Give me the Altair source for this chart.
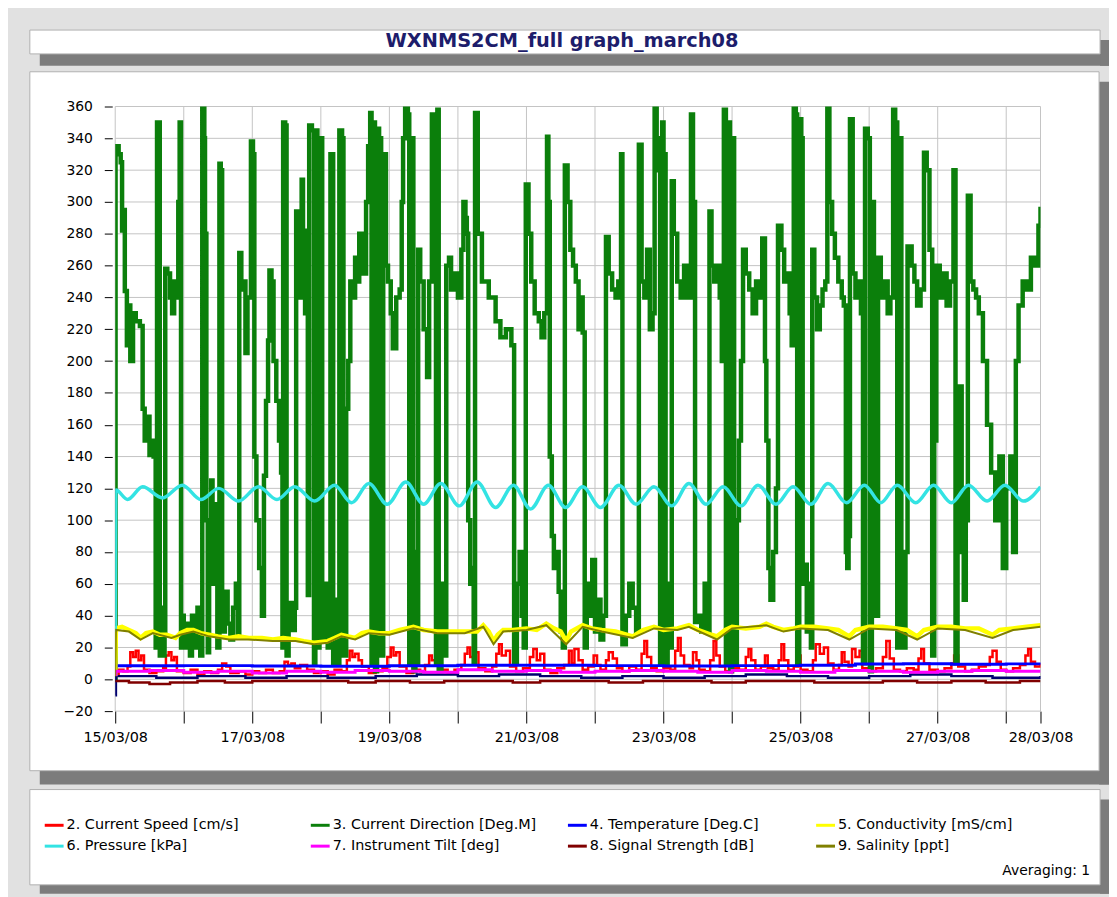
import altair as alt
import pandas as pd

TITLE = "WXNMS2CM_full graph_march08"
Y_TICKS = list(range(-20, 361, 20))
X_TICK_DAYS = [0, 1, 2, 3, 4, 5, 6, 7, 8, 9, 10, 11, 12, 13, 13.5]
X_TICK_LABELS = ["15/03/08", "", "17/03/08", "", "19/03/08", "", "21/03/08", "",
                 "23/03/08", "", "25/03/08", "", "27/03/08", "", "28/03/08"]

# (day since 15/03/08 00:00, value)
CURRENT_SPEED = [(0,3),(0.05,6),(0.12,5),(0.18,8),(0.22,17),(0.26,14),(0.30,18),(0.34,12),(0.38,15),(0.42,6),(0.5,4),(0.6,5),(0.7,7),(0.74,15),(0.78,17),(0.82,12),(0.86,14),(0.9,5),(1.0,4),(1.1,6),(1.2,3),(1.3,5),(1.4,4),(1.5,6),(1.56,10),(1.62,8),(1.68,4),(1.8,5),(1.9,3),(2.0,5),(2.1,4),(2.2,6),(2.3,4),(2.4,5),(2.47,11),(2.52,9),(2.57,10),(2.62,7),(2.7,9),(2.8,6),(2.9,4),(3.0,5),(3.1,3),(3.2,6),(3.3,5),(3.38,12),(3.42,18),(3.46,14),(3.50,16),(3.55,12),(3.6,8),(3.7,4),(3.8,5),(3.9,7),(3.97,14),(4.02,20),(4.06,15),(4.1,17),(4.15,8),(4.25,4),(4.35,6),(4.45,5),(4.52,9),(4.58,15),(4.62,12),(4.68,14),(4.74,6),(4.85,4),(4.95,6),(5.05,9),(5.1,16),(5.14,20),(5.18,14),(5.24,17),(5.3,7),(5.4,5),(5.5,8),(5.56,16),(5.6,22),(5.64,15),(5.7,18),(5.76,8),(5.85,5),(5.95,7),(6.05,14),(6.1,19),(6.15,12),(6.2,16),(6.26,6),(6.35,4),(6.45,7),(6.55,9),(6.62,18),(6.66,10),(6.7,19),(6.76,12),(6.82,6),(6.9,8),(6.98,15),(7.03,9),(7.08,6),(7.16,12),(7.2,17),(7.26,13),(7.32,7),(7.4,5),(7.5,8),(7.6,6),(7.68,16),(7.72,24),(7.76,14),(7.82,7),(7.9,5),(8.0,7),(8.1,6),(8.17,18),(8.21,26),(8.25,15),(8.3,9),(8.38,7),(8.43,17),(8.48,12),(8.52,6),(8.6,5),(8.68,12),(8.73,24),(8.77,15),(8.82,8),(8.9,5),(9.0,7),(9.1,6),(9.2,14),(9.24,19),(9.28,12),(9.34,6),(9.42,8),(9.48,15),(9.52,7),(9.6,6),(9.68,12),(9.72,22),(9.76,12),(9.82,6),(9.9,8),(9.96,15),(10.0,6),(10.1,5),(10.18,12),(10.22,22),(10.28,16),(10.34,20),(10.4,10),(10.48,6),(10.56,9),(10.6,17),(10.64,11),(10.7,8),(10.75,19),(10.8,14),(10.86,18),(10.9,7),(11.0,5),(11.1,7),(11.2,14),(11.25,24),(11.3,13),(11.36,6),(11.45,5),(11.55,7),(11.65,6),(11.72,13),(11.76,19),(11.8,10),(11.88,6),(12.0,5),(12.1,7),(12.2,10),(12.24,15),(12.3,8),(12.4,5),(12.5,6),(12.6,8),(12.7,9),(12.76,14),(12.8,18),(12.86,11),(12.92,6),(13.0,5),(13.1,7),(13.2,9),(13.28,15),(13.32,19),(13.36,11),(13.42,8),(13.5,10)]

CURRENT_DIRECTION = [(0.00,0),(0.005,335),(0.05,330),(0.08,325),(0.10,282),(0.12,295),(0.14,244),(0.17,210),(0.20,235),(0.22,200),(0.26,230),(0.30,225),(0.36,222),(0.40,170),(0.43,150),(0.47,165),(0.50,141),(0.53,150),(0.56,140),(0.59,20),(0.61,350),(0.63,350),(0.65,15),(0.68,45),(0.70,15),(0.72,30),(0.73,258),(0.76,255),(0.80,240),(0.83,230),(0.86,250),(0.89,240),(0.92,300),(0.94,350),(0.96,20),(0.98,40),(1.00,20),(1.03,35),(1.06,30),(1.09,15),(1.12,40),(1.16,20),(1.20,45),(1.24,15),(1.27,359),(1.30,340),(1.31,280),(1.33,100),(1.35,17),(1.37,90),(1.40,125),(1.42,60),(1.44,110),(1.46,67),(1.49,20),(1.52,324),(1.54,320),(1.56,30),(1.60,55),(1.64,35),(1.68,25),(1.72,45),(1.76,60),(1.79,28),(1.81,268),(1.84,245),(1.87,250),(1.90,205),(1.93,240),(1.98,338),(2.01,330),(2.03,140),(2.06,100),(2.10,70),(2.14,40),(2.17,128),(2.20,175),(2.23,213),(2.25,257),(2.28,250),(2.31,200),(2.35,175),(2.39,150),(2.42,130),(2.44,20),(2.45,350),(2.48,348),(2.50,15),(2.53,48),(2.58,31),(2.62,45),(2.64,294),(2.68,240),(2.72,314),(2.74,280),(2.77,230),(2.79,282),(2.81,53),(2.83,348),(2.87,345),(2.90,10),(2.92,345),(2.95,20),(2.98,340),(3.02,25),(3.06,60),(3.10,20),(3.14,330),(3.18,10),(3.22,50),(3.25,10),(3.27,345),(3.31,340),(3.33,15),(3.37,170),(3.40,200),(3.43,250),(3.46,240),(3.50,265),(3.53,250),(3.56,280),(3.60,255),(3.66,300),(3.69,335),(3.72,356),(3.74,10),(3.76,350),(3.79,5),(3.82,346),(3.85,340),(3.88,15),(3.91,330),(3.95,260),(3.98,250),(4.02,230),(4.05,208),(4.10,240),(4.15,245),(4.18,300),(4.20,340),(4.23,359),(4.27,355),(4.29,10),(4.32,340),(4.35,5),(4.38,80),(4.40,10),(4.42,270),(4.45,250),(4.50,220),(4.55,190),(4.58,250),(4.62,355),(4.66,350),(4.68,10),(4.70,358),(4.72,5),(4.76,60),(4.80,15),(4.83,260),(4.87,265),(4.90,245),(4.95,255),(5.00,240),(5.05,270),(5.08,300),(5.11,290),(5.13,280),(5.15,100),(5.18,60),(5.21,70),(5.23,10),(5.25,356),(5.29,280),(5.35,250),(5.45,240),(5.55,225),(5.62,215),(5.70,220),(5.78,210),(5.82,10),(5.86,60),(5.90,80),(5.93,40),(5.96,20),(5.99,311),(6.03,280),(6.07,250),(6.12,230),(6.18,225),(6.22,215),(6.26,230),(6.30,341),(6.32,300),(6.34,140),(6.37,90),(6.40,70),(6.44,80),(6.47,55),(6.50,30),(6.53,20),(6.56,323),(6.60,300),(6.64,270),(6.68,260),(6.72,250),(6.76,220),(6.79,240),(6.82,218),(6.85,20),(6.88,60),(6.92,40),(6.96,75),(7.00,30),(7.04,50),(7.08,25),(7.12,40),(7.16,278),(7.20,255),(7.25,245),(7.30,240),(7.34,250),(7.38,330),(7.40,22),(7.45,40),(7.50,60),(7.55,45),(7.60,30),(7.64,336),(7.68,250),(7.72,240),(7.76,270),(7.80,220),(7.84,230),(7.87,359),(7.90,340),(7.92,320),(7.95,10),(7.98,350),(8.00,330),(8.03,10),(8.06,60),(8.09,20),(8.12,313),(8.15,280),(8.20,250),(8.25,240),(8.30,260),(8.35,240),(8.40,355),(8.43,300),(8.46,36),(8.50,40),(8.55,30),(8.60,60),(8.64,30),(8.67,294),(8.70,260),(8.74,250),(8.78,260),(8.82,240),(8.85,200),(8.88,358),(8.91,10),(8.94,350),(8.97,5),(9.00,340),(9.03,10),(9.07,100),(9.10,150),(9.13,200),(9.16,270),(9.20,255),(9.25,245),(9.30,230),(9.35,250),(9.40,240),(9.44,277),(9.48,200),(9.50,150),(9.53,70),(9.56,50),(9.60,80),(9.64,120),(9.67,285),(9.72,270),(9.76,250),(9.80,255),(9.84,230),(9.87,210),(9.90,359),(9.93,355),(9.95,10),(9.98,352),(10.01,340),(10.03,60),(10.06,72),(10.09,30),(10.12,60),(10.15,20),(10.17,270),(10.20,240),(10.24,220),(10.28,235),(10.32,245),(10.36,250),(10.39,359),(10.42,300),(10.46,280),(10.50,265),(10.55,250),(10.60,240),(10.63,235),(10.66,80),(10.68,70),(10.70,90),(10.72,352),(10.76,255),(10.80,240),(10.84,250),(10.88,230),(10.91,10),(10.94,346),(10.98,340),(11.01,5),(11.04,300),(11.07,200),(11.10,40),(11.13,265),(11.17,240),(11.22,250),(11.27,230),(11.31,240),(11.35,358),(11.38,350),(11.41,20),(11.44,340),(11.47,60),(11.50,20),(11.53,80),(11.56,272),(11.62,260),(11.66,250),(11.70,235),(11.75,245),(11.80,331),(11.84,320),(11.88,270),(11.92,15),(11.95,150),(11.98,260),(12.03,240),(12.08,255),(12.13,235),(12.18,250),(12.23,320),(12.26,10),(12.29,80),(12.32,184),(12.35,120),(12.38,50),(12.41,100),(12.44,304),(12.48,250),(12.52,245),(12.56,240),(12.60,230),(12.66,200),(12.72,160),(12.78,130),(12.84,100),(12.90,140),(12.95,70),(13.00,120),(13.06,140),(13.10,80),(13.14,200),(13.18,235),(13.24,250),(13.30,245),(13.36,265),(13.42,260),(13.47,285),(13.5,297)]

TEMPERATURE = [(0,8),(0.01,8.5),(1.0,8.6),(2.0,8.4),(3.0,8.2),(4.0,8.5),(5.0,8.8),(6.0,8.9),(7.0,8.6),(8.0,8.4),(9.0,8.6),(10.0,8.8),(10.8,9.6),(11.5,9.8),(12.2,9.5),(13.0,9.7),(13.5,9.5)]

CONDUCTIVITY = [(0,2),(0.01,32),(0.1,33),(0.2,31),(0.3,29),(0.37,26),(0.45,29),(0.55,30),(0.65,28),(0.75,28),(0.82,27),(0.88,26),(0.95,29),(1.05,31),(1.14,31),(1.25,29),(1.37,28),(1.5,27),(1.66,26),(1.8,27),(1.95,26),(2.14,26),(2.3,25),(2.45,26),(2.63,25),(2.75,24),(2.9,23),(3.1,24),(3.2,26),(3.3,28),(3.4,27),(3.5,26),(3.6,29),(3.7,30),(3.85,29),(4.0,29),(4.15,31),(4.25,32),(4.35,33),(4.5,31),(4.7,30),(4.9,30),(5.1,30),(5.28,30),(5.37,34),(5.45,30),(5.52,24),(5.58,28),(5.66,31),(5.8,31),(6.0,32),(6.15,31),(6.29,35),(6.4,32),(6.5,30),(6.58,24),(6.65,30),(6.82,34),(6.95,32),(7.1,31),(7.3,30),(7.55,27),(7.7,31),(7.86,33),(8.0,31),(8.2,32),(8.37,34),(8.5,31),(8.7,28),(8.78,27),(8.9,31),(9.0,33),(9.2,32),(9.4,33),(9.5,35),(9.6,33),(9.75,31),(9.9,32),(10.0,33),(10.2,33),(10.4,32),(10.55,31),(10.71,27),(10.8,31),(11.0,33),(11.2,33),(11.4,32),(11.55,31),(11.7,27),(11.8,31),(12.0,33),(12.2,33),(12.4,32),(12.6,32),(12.8,28),(12.9,31),(13.1,32),(13.3,33),(13.5,34)]

PRESSURE = [(0,30),(0.01,119),(0.18,113),(0.40,121),(0.69,114),(0.98,122),(1.25,113),(1.51,120),(1.80,112),(2.09,121),(2.36,113),(2.62,121),(2.91,112),(3.20,122),(3.45,111),(3.70,123),(3.97,110),(4.24,124),(4.50,110),(4.75,123),(5.02,109),(5.28,124),(5.55,108),(5.81,122),(6.06,107),(6.32,122),(6.57,108),(6.82,121),(7.08,108),(7.35,122),(7.60,110),(7.86,121),(8.12,109),(8.37,123),(8.62,110),(8.87,121),(9.13,109),(9.38,122),(9.64,110),(9.89,121),(10.15,110),(10.40,123),(10.67,111),(10.93,122),(11.17,111),(11.41,122),(11.68,111),(11.94,122),(12.2,111),(12.45,122),(12.72,112),(12.98,122),(13.25,112),(13.5,121)]

INSTRUMENT_TILT = [(0,3),(0.01,5),(0.5,5.5),(1.0,4.5),(1.5,5),(2.0,4),(2.5,5),(3.0,4.5),(3.5,5.5),(4.0,5),(4.5,4.5),(5.0,6),(5.5,5),(6.0,5.5),(6.5,4.5),(7.0,5),(7.5,5.5),(8.0,5),(8.5,4.5),(9.0,5.5),(9.5,5),(10.0,4.5),(10.5,5.5),(11.0,5),(11.5,4.5),(12.0,5),(12.5,5.5),(13.0,5),(13.5,5)]

SIGNAL_STRENGTH = [(0,-1),(0.2,-2),(0.5,-3),(0.8,-2),(1.2,-1),(1.6,-2),(2.0,-1),(2.5,-1),(3.0,-1),(3.4,-2),(3.8,-1),(4.3,-2),(4.8,-1),(5.3,-1),(5.8,-2),(6.2,-1),(6.8,-1),(7.2,-2),(7.7,-1),(8.2,-1),(8.7,-2),(9.2,-1),(9.7,-1),(10.2,-2),(10.7,-2),(11.2,-1),(11.7,-2),(12.2,-1),(12.7,-2),(13.2,-1),(13.5,-1)]

SALINITY = [(0,2),(0.01,31),(0.2,30),(0.37,25),(0.55,29),(0.82,26),(0.95,28),(1.14,30),(1.37,27),(1.66,25),(1.95,25),(2.3,24),(2.63,24),(2.9,22),(3.1,23),(3.3,27),(3.5,25),(3.7,29),(4.0,28),(4.35,32),(4.7,29),(5.1,29),(5.37,33),(5.52,22),(5.66,30),(6.0,31),(6.29,34),(6.58,22),(6.82,33),(7.1,30),(7.55,26),(7.86,32),(8.2,31),(8.37,33),(8.78,25),(9.0,32),(9.5,34),(9.75,30),(10.0,32),(10.4,31),(10.71,25),(11.0,32),(11.4,31),(11.7,25),(12.0,32),(12.4,31),(12.8,26),(13.1,31),(13.5,33)]

# unlabelled dark trace near zero
AUX_TRACE = [(0,-10),(0.01,2),(0.6,1),(1.2,2),(1.9,1),(2.5,2),(3.1,1),(3.8,2),(4.4,3),(5.0,2),(5.6,3),(6.2,2),(6.8,1),(7.4,2),(8.0,1),(8.6,2),(9.2,3),(9.8,2),(10.4,1),(11.0,2),(11.6,3),(12.2,2),(12.8,1),(13.5,2)]

LEGEND_NAMES = ["2. Current Speed [cm/s]", "3. Current Direction [Deg.M]", "4. Temperature [Deg.C]",
                "5. Conductivity [mS/cm]", "6. Pressure [kPa]", "7. Instrument Tilt [deg]",
                "8. Signal Strength [dB]", "9. Salinity [ppt]"]

# ---------------------------------------------------------------------------
W, H = 932, 609
FONT = "DejaVu Sans"
xs = alt.Scale(domain=[0, 13.5], nice=False, zero=False)
ys = alt.Scale(domain=[-20, 360], nice=False, zero=False)

label_expr = ""
for d, lab in zip(X_TICK_DAYS, X_TICK_LABELS):
    if lab:
        label_expr += f"datum.value == {d} ? '{lab}' : "
label_expr += "''"

xaxis = alt.Axis(values=X_TICK_DAYS, labelExpr=label_expr, grid=False, domain=False,
                 tickSize=12, tickColor="black", labelPadding=8, labelFont=FONT,
                 labelFontSize=14.5, labelColor="black", title=None, zindex=1,
                 labelOverlap=False, labelFlush=False)
yaxis = alt.Axis(values=Y_TICKS, grid=False, domain=False, tickSize=8, tickColor="black",
                 labelPadding=12, offset=3, labelFont=FONT, labelFontSize=14,
                 labelColor="black", title=None, zindex=1)

one = pd.DataFrame({"k": [0]})


def box(x1, x2, y1, y2, fill, stroke=None):
    kw = dict(fill=fill)
    if stroke:
        kw.update(stroke=stroke, strokeWidth=1)
    else:
        kw.update(strokeWidth=0)
    return alt.Chart(one).mark_rect(**kw).encode(
        x=alt.value(x1), x2=alt.value(x2), y=alt.value(y1), y2=alt.value(y2))


SHADOW = "#7c7c7c"
PANEL_STROKE = "#b0b0b0"
layers = [
    # title box
    box(-76, 1001, -53, -41, SHADOW), box(992, 1001, -67, -41, SHADOW),
    box(-86, 992, -77, -53, "white", PANEL_STROKE),
    # plot panel
    box(-76, 1001, 669, 683, SHADOW), box(991, 1001, -25, 683, SHADOW),
    box(-86, 991, -35, 669, "white", PANEL_STROKE),
    # legend panel
    box(-76, 1001, 784, 793, SHADOW), box(992, 1001, 698, 793, SHADOW),
    box(-86, 992, 688, 784, "white", PANEL_STROKE),
]

grid_color = "#c4c4c4"
layers.append(alt.Chart(pd.DataFrame({"day": X_TICK_DAYS})).mark_rule(color=grid_color, strokeWidth=1).encode(
    x=alt.X("day:Q", scale=xs, axis=xaxis), y=alt.value(0), y2=alt.value(H)))
layers.append(alt.Chart(pd.DataFrame({"value": Y_TICKS})).mark_rule(color=grid_color, strokeWidth=1).encode(
    y=alt.Y("value:Q", scale=ys, axis=yaxis), x=alt.value(0), x2=alt.value(W)))

SERIES = [
    (CURRENT_SPEED, "#ff0000", 2.5, "step-after"),
    (CURRENT_DIRECTION, "#0b7f0b", 4.5, "step-after"),
    (AUX_TRACE, "#000070", 2.5, "step-after"),
    (TEMPERATURE, "#0000ff", 3, "step-after"),
    (CONDUCTIVITY, "#ffff00", 4.5, "linear"),
    (PRESSURE, "#33e3e3", 3.5, "monotone"),
    (INSTRUMENT_TILT, "#ff00ff", 3, "step-after"),
    (SIGNAL_STRENGTH, "#800000", 2.5, "step-after"),
    (SALINITY, "#808000", 2, "linear"),
]
for pts, color, width, interp in SERIES:
    df = pd.DataFrame(pts, columns=["day", "value"])
    layers.append(alt.Chart(df).mark_line(color=color, strokeWidth=width, interpolate=interp, clip=True).encode(
        x=alt.X("day:Q", scale=xs, axis=xaxis), y=alt.Y("value:Q", scale=ys, axis=yaxis)))

# title text
layers.append(alt.Chart(one).mark_text(text=TITLE, font=FONT, fontSize=19.5, fontWeight="bold",
                                       color="#1d1d6b", align="center", baseline="middle").encode(
    x=alt.value(450), y=alt.value(-66)))

# legend
legend_colors = ["#ff0000", "#0b7f0b", "#0000ff", "#ffff00", "#33e3e3", "#ff00ff", "#800000", "#808000"]
col_x = [-71, 197, 456, 706]
row_y = [724, 745]
for i, (name, color) in enumerate(zip(LEGEND_NAMES, legend_colors)):
    cx = col_x[i % 4]
    cy = row_y[i // 4]
    layers.append(alt.Chart(one).mark_text(text=name, font=FONT, fontSize=14.5, color="black",
                                           align="left", baseline="middle").encode(
        x=alt.value(cx + 22), y=alt.value(cy)))
for i, (name, color) in enumerate(zip(LEGEND_NAMES, legend_colors)):
    cx = col_x[i % 4]
    cy = row_y[i // 4]
    layers.append(alt.Chart(one).mark_rule(color=color, strokeWidth=3).encode(
        x=alt.value(cx), x2=alt.value(cx + 19), y=alt.value(cy)))

layers.append(alt.Chart(one).mark_text(text="Averaging: 1", font=FONT, fontSize=14, color="black",
                                       align="right", baseline="middle").encode(
    x=alt.value(982), y=alt.value(770)))

chart = alt.layer(*layers).properties(
    width=W, height=H,
    padding={"left": 108, "top": 96, "right": 69, "bottom": 184},
    autosize=alt.AutoSizeParams(type="none"),
).configure(background="#e1e1e1").configure_view(stroke=None)

chart.save("out.html", embed_options={"renderer": "svg", "actions": False})
